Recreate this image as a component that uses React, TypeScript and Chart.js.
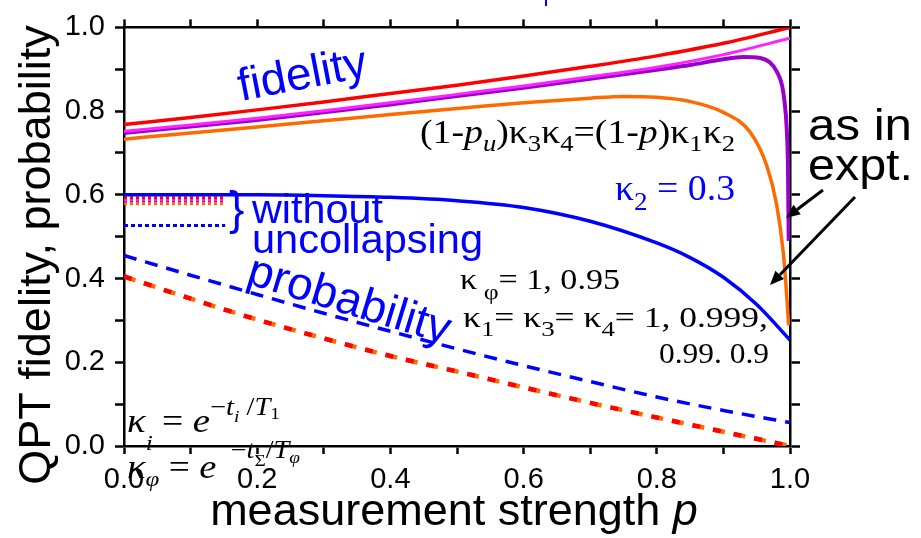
import { useEffect, useRef } from 'react';
import { Chart, registerables } from 'chart.js';

Chart.register(...registerables);

// ---------- data ----------
const fidP = [0, 0.1, 0.2, 0.3, 0.4, 0.5, 0.6, 0.7, 0.8, 0.9, 1.0];
const redFid = [0.768, 0.785, 0.803, 0.822, 0.842, 0.862, 0.884, 0.907, 0.932, 0.962, 1.0];
const magentaFid = [0.752, 0.767, 0.783, 0.801, 0.82, 0.84, 0.86, 0.882, 0.905, 0.935, 0.974];

const purpleP = [0, 0.1, 0.2, 0.3, 0.4, 0.5, 0.6, 0.7, 0.8, 0.85, 0.9, 0.93, 0.955, 0.97, 0.98, 0.988, 0.992, 0.995, 0.997, 0.998];
const purpleFid = [0.748, 0.763, 0.779, 0.797, 0.816, 0.836, 0.856, 0.877, 0.899, 0.91, 0.924, 0.929, 0.927, 0.916, 0.895, 0.862, 0.82, 0.76, 0.66, 0.49];

const orangeP = [0, 0.1, 0.2, 0.3, 0.4, 0.5, 0.6, 0.7, 0.75, 0.8, 0.85, 0.9, 0.94, 0.965, 0.98, 0.99, 0.995, 0.998];
const orangeFid = [0.733, 0.748, 0.762, 0.777, 0.792, 0.806, 0.82, 0.831, 0.835, 0.833, 0.823, 0.797, 0.75, 0.67, 0.576, 0.46, 0.36, 0.288];

const blueP = [0, 0.1, 0.2, 0.3, 0.4, 0.5, 0.6, 0.7, 0.8, 0.85, 0.9, 0.95, 1.0];
const blueFid = [0.6, 0.6, 0.6, 0.598, 0.594, 0.586, 0.57, 0.537, 0.485, 0.45, 0.403, 0.338, 0.253];

const probP = [0, 0.1, 0.2, 0.3, 0.4, 0.5, 0.6, 0.7, 0.8, 0.9, 1.0];
const blueProb = [0.455, 0.408, 0.362, 0.317, 0.274, 0.232, 0.192, 0.154, 0.117, 0.085, 0.056];
const redProb = [0.405, 0.352, 0.302, 0.257, 0.215, 0.178, 0.14, 0.103, 0.068, 0.034, 0.0];

// "without uncollapsing" levels
const noUncP = [0, 0.152];
const redNoUnc = [0.593, 0.593];
const magentaNoUnc = [0.588, 0.588];
const purpleNoUnc = [0.586, 0.586];
const orangeNoUnc = [0.579, 0.579];
const blueNoUnc = [0.527, 0.527];

const axisMin = 0;
const axisMax = 1;
const tickStep = 0.1;

// ---------- style ----------
const RED = '#ff0000';
const MAGENTA = '#ff22ff';
const PURPLE = '#9900cc';
const ORANGE = '#ff6a00';
const BLUE = '#0000ff';
const SANS = '"Liberation Sans", Arial, sans-serif';
const SERIF = '"Liberation Serif", "Times New Roman", serif';

const zip = (xs: number[], ys: number[]) => xs.map((x, i) => ({ x, y: ys[i] }));
const evenLabel = (v: number | string) => {
  const n = Number(v);
  return Math.round(n * 10) % 2 === 0 ? n.toFixed(1) : '';
};

type Seg = { t: string; size: number; italic?: boolean; dy?: number; family?: string };

function drawRich(ctx: CanvasRenderingContext2D, segs: Seg[], x: number, y: number, color: string, width?: number) {
  ctx.save();
  ctx.fillStyle = color;
  ctx.textBaseline = 'alphabetic';
  ctx.textAlign = 'left';
  const fonts = segs.map((s) => `${s.italic ? 'italic ' : ''}${s.size}px ${s.family ?? SERIF}`);
  let total = 0;
  const ws = segs.map((s, i) => {
    ctx.font = fonts[i];
    const w = ctx.measureText(s.t).width;
    total += w;
    return w;
  });
  const sx = width ? width / total : 1;
  ctx.translate(x, y);
  ctx.scale(sx, 1);
  let cx = 0;
  segs.forEach((s, i) => {
    ctx.font = fonts[i];
    ctx.fillText(s.t, cx, s.dy ?? 0);
    cx += ws[i];
  });
  ctx.restore();
}

function arrow(ctx: CanvasRenderingContext2D, x1: number, y1: number, x2: number, y2: number) {
  const ang = Math.atan2(y2 - y1, x2 - x1);
  const hl = 14;
  const hw = 6;
  const bx = x2 - hl * Math.cos(ang);
  const by = y2 - hl * Math.sin(ang);
  ctx.save();
  ctx.strokeStyle = '#000';
  ctx.fillStyle = '#000';
  ctx.lineWidth = 3;
  ctx.beginPath();
  ctx.moveTo(x1, y1);
  ctx.lineTo(bx, by);
  ctx.stroke();
  ctx.beginPath();
  ctx.moveTo(x2, y2);
  ctx.lineTo(bx + hw * Math.sin(ang), by - hw * Math.cos(ang));
  ctx.lineTo(bx - hw * Math.sin(ang), by + hw * Math.cos(ang));
  ctx.closePath();
  ctx.fill();
  ctx.restore();
}

function rotText(ctx: CanvasRenderingContext2D, text: string, x: number, y: number, deg: number, font: string, color: string) {
  ctx.save();
  ctx.translate(x, y);
  ctx.rotate((deg * Math.PI) / 180);
  ctx.font = font;
  ctx.fillStyle = color;
  ctx.textAlign = 'left';
  ctx.textBaseline = 'alphabetic';
  ctx.fillText(text, 0, 0);
  ctx.restore();
}

const annotationPlugin = {
  id: 'annotations',
  afterDraw(chart: Chart) {
    const ctx = chart.ctx;
    // axis titles
    ctx.save();
    ctx.fillStyle = '#000';
    ctx.translate(50, 255);
    ctx.rotate(-Math.PI / 2);
    ctx.font = `45px ${SANS}`;
    ctx.textAlign = 'center';
    ctx.textBaseline = 'alphabetic';
    ctx.fillText('QPT fidelity, probability', 0, 0);
    ctx.restore();

    ctx.save();
    const t1 = 'measurement strength ';
    ctx.font = `45px ${SANS}`;
    const w1 = ctx.measureText(t1).width;
    ctx.font = `italic 45px ${SANS}`;
    const w2 = ctx.measureText('p').width;
    const sx = 454 - (w1 + w2) / 2;
    ctx.fillStyle = '#000';
    ctx.textBaseline = 'alphabetic';
    ctx.textAlign = 'left';
    ctx.font = `45px ${SANS}`;
    ctx.fillText(t1, sx, 525);
    ctx.font = `italic 45px ${SANS}`;
    ctx.fillText('p', sx + w1, 525);
    ctx.restore();

    // blue labels
    rotText(ctx, 'fidelity', 241, 101, -11, `46px ${SANS}`, BLUE);
    rotText(ctx, 'probability', 245, 283, 17, `46px ${SANS}`, BLUE);
    drawRich(ctx, [{ t: '}', size: 46, family: SANS }], 229, 224, BLUE);
    drawRich(ctx, [{ t: 'without', size: 40, family: SANS }], 252, 223, BLUE, 131);
    drawRich(ctx, [{ t: 'uncollapsing', size: 40, family: SANS }], 252, 253, BLUE, 231);
    drawRich(ctx, [
      { t: 'κ', size: 36 },
      { t: '2', size: 26, dy: 10 },
      { t: ' = 0.3', size: 36 },
    ], 615, 200, BLUE, 120);

    // black math
    drawRich(ctx, [
      { t: '(1-', size: 34 },
      { t: 'p', size: 34, italic: true },
      { t: 'u', size: 24, italic: true, dy: 8 },
      { t: ')κ', size: 34 },
      { t: '3', size: 24, dy: 8 },
      { t: 'κ', size: 34 },
      { t: '4', size: 24, dy: 8 },
      { t: '=(1-', size: 34 },
      { t: 'p', size: 34, italic: true },
      { t: ')κ', size: 34 },
      { t: '1', size: 24, dy: 8 },
      { t: 'κ', size: 34 },
      { t: '2', size: 24, dy: 8 },
    ], 420, 143, '#000', 315);

    drawRich(ctx, [
      { t: 'κ', size: 29 },
      { t: ' φ', size: 22, dy: 10 },
      { t: '= 1, 0.95', size: 29 },
    ], 460, 289, '#000', 160);
    drawRich(ctx, [
      { t: 'κ', size: 29 },
      { t: '1', size: 22, dy: 9 },
      { t: '= κ', size: 29 },
      { t: '3', size: 22, dy: 9 },
      { t: '= κ', size: 29 },
      { t: '4', size: 22, dy: 9 },
      { t: '= 1, 0.999,', size: 29 },
    ], 463, 327, '#000', 305);
    drawRich(ctx, [{ t: '0.99. 0.9', size: 29 }], 659, 363, '#000', 110);

    drawRich(ctx, [
      { t: 'κ', size: 34, italic: true },
      { t: 'i', size: 22, italic: true, dy: 18 },
      { t: ' = ', size: 33 },
      { t: 'e', size: 34, italic: true },
      { t: '−', size: 25, dy: -17 },
      { t: 't', size: 25, italic: true, dy: -17 },
      { t: 'i', size: 17, italic: true, dy: -10 },
      { t: ' /', size: 25, dy: -17 },
      { t: 'T', size: 25, italic: true, dy: -17 },
      { t: '1', size: 17, dy: -13 },
    ], 127, 432, '#000', 153);
    drawRich(ctx, [
      { t: 'κ', size: 34, italic: true },
      { t: 'φ', size: 22, italic: true, dy: 8 },
      { t: ' = ', size: 33 },
      { t: 'e', size: 34, italic: true },
      { t: '  −', size: 25, dy: -20 },
      { t: 't', size: 25, italic: true, dy: -20 },
      { t: 'Σ', size: 17, dy: -12 },
      { t: '/', size: 25, dy: -20 },
      { t: 'T', size: 25, italic: true, dy: -20 },
      { t: 'φ', size: 17, italic: true, dy: -15 },
    ], 127, 478, '#000', 173);

    // "as in expt."
    drawRich(ctx, [{ t: 'as in', size: 44, family: SANS }], 808, 140, '#000', 104);
    drawRich(ctx, [{ t: 'expt.', size: 44, family: SANS }], 808, 180, '#000', 105);
    arrow(ctx, 823, 190, 786, 218);
    arrow(ctx, 855, 197, 770, 285);

    // clipped blue mark at top edge
    ctx.save();
    ctx.fillStyle = BLUE;
    ctx.fillRect(545, 0, 2, 6);
    ctx.restore();
  },
};

const line = (data: { x: number; y: number }[], color: string, width: number, order: number, dash?: number[]) => ({
  data,
  borderColor: color,
  borderWidth: width,
  borderDash: dash ?? [],
  pointRadius: 0,
  fill: false,
  cubicInterpolationMode: 'monotone' as const,
  borderCapStyle: 'butt' as const,
  order,
});

export default function App() {
  const ref = useRef<HTMLCanvasElement>(null);
  useEffect(() => {
    document.body.style.margin = '0';
    const canvas = ref.current;
    if (!canvas) return;
    const tickFont = { family: SANS, size: 29 };
    const grid = (tl: number) => ({ drawOnChartArea: false, drawTicks: true, tickLength: tl, tickWidth: 2.5, tickColor: '#000' });
    const border = { display: true, color: '#000', width: 2.5 };
    const chart = new Chart(canvas, {
      type: 'line',
      data: {
        datasets: [
          line(zip(fidP, redFid), RED, 3.5, 1),
          line(zip(fidP, magentaFid), MAGENTA, 3, 2),
          line(zip(purpleP, purpleFid), PURPLE, 4, 3),
          line(zip(orangeP, orangeFid), ORANGE, 3.5, 4),
          line(zip(blueP, blueFid), BLUE, 3.5, 5),
          line(zip(noUncP, redNoUnc), RED, 3, 6, [3, 3]),
          line(zip(noUncP, magentaNoUnc), MAGENTA, 3, 7, [3, 3]),
          line(zip(noUncP, purpleNoUnc), PURPLE, 3, 8, [3, 3]),
          line(zip(noUncP, orangeNoUnc), ORANGE, 3, 9, [3, 3]),
          line(zip(noUncP, blueNoUnc), BLUE, 3, 10, [4, 3]),
          line(zip(probP, redProb), RED, 4.5, 11, [8, 13]),
          line(zip(probP, redProb), ORANGE, 4.5, 12, [12, 9]),
          line(zip(probP, blueProb), BLUE, 3.5, 13, [13, 9]),
        ],
      },
      options: {
        responsive: false,
        animation: false,
        devicePixelRatio: 1,
        layout: { padding: 0 },
        plugins: { legend: { display: false }, tooltip: { enabled: false } },
        scales: {
          x: {
            type: 'linear',
            position: 'bottom',
            min: axisMin,
            max: axisMax,
            ticks: { stepSize: tickStep, autoSkip: false, maxRotation: 0, callback: evenLabel, font: tickFont, color: '#000', padding: 9 },
            grid: grid(8),
            border,
            afterFit: (s: any) => { s.height = 92; },
          },
          xTop: {
            type: 'linear',
            axis: 'x',
            position: 'top',
            min: axisMin,
            max: axisMax,
            ticks: { stepSize: tickStep, display: false },
            grid: grid(8),
            border,
            afterFit: (s: any) => { s.height = 19; },
          },
          y: {
            type: 'linear',
            position: 'left',
            min: axisMin,
            max: axisMax,
            ticks: { stepSize: tickStep, autoSkip: false, callback: evenLabel, font: tickFont, color: '#000', padding: 10 },
            grid: grid(9),
            border,
            afterFit: (s: any) => { s.width = 124; },
          },
          yRight: {
            type: 'linear',
            axis: 'y',
            position: 'right',
            min: axisMin,
            max: axisMax,
            ticks: { stepSize: tickStep, display: false },
            grid: grid(10),
            border,
            afterFit: (s: any) => { s.width = 131; },
          },
        } as any,
      },
      plugins: [annotationPlugin],
    });
    return () => chart.destroy();
  }, []);
  return (
    <div style={{ position: 'absolute', left: 0, top: 0, width: 921, height: 538, background: '#fff' }}>
      <canvas ref={ref} width={921} height={538} style={{ display: 'block', width: 921, height: 538 }} />
    </div>
  );
}
